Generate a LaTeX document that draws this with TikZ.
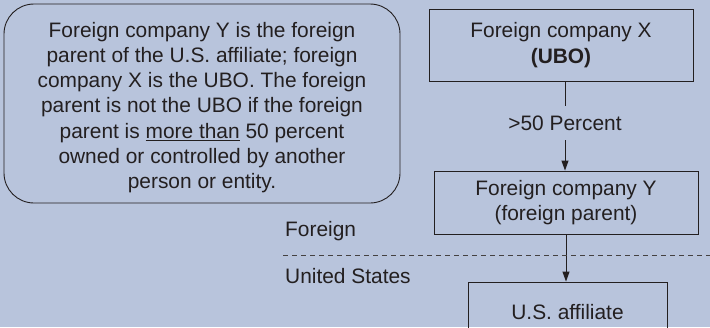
\documentclass[tikz,border=0pt]{standalone}
\usepackage{fontspec}
\setmainfont{Liberation Sans}
\usetikzlibrary{arrows.meta}
\definecolor{bgblue}{HTML}{B8C4DC}
\definecolor{ink}{HTML}{231F20}
\begin{document}
\begin{tikzpicture}[x=1pt,y=-1pt,
  every node/.style={font=\fontsize{20.9}{25.2}\selectfont, text=ink},
  company/.style={draw=ink, line width=0.9pt, align=center, inner sep=0pt},
  link/.style={draw=ink, line width=0.9pt},
  arrowlink/.style={link, -{Triangle[length=10pt,width=7pt]}},
  border/.style={draw=ink!85, line width=0.8pt, dash pattern=on 5pt off 4pt}]
  % canvas
  \fill[bgblue] (0,0) rectangle (710,327);
  \useasboundingbox (0,0) rectangle (710,327);

  % explanatory note
  \node[draw=ink, line width=0.9pt, rounded corners=30pt,
        minimum width=396pt, minimum height=199pt, inner sep=0pt,
        label={[align=center, yshift=-4pt]center:{%
          Foreign company Y is the foreign\\
          parent of the U.S. affiliate; foreign\\
          company X is the UBO. The foreign\\
          parent is not the UBO if the foreign\\
          parent is \underline{more than} 50 percent\\
          owned or controlled by another\\
          person or entity.}}]
    (note) at (202,103.5) {};

  % ownership chain
  \node[company, minimum width=264pt, minimum height=72pt] (X) at (561,45)
    {Foreign company X\\ \textbf{(UBO)}};
  \node[company, minimum width=264pt, minimum height=63pt] (Y) at (566,202.5)
    {Foreign company Y\\ (foreign parent)};
  \node[company, minimum width=199pt, minimum height=60pt] (A) at (567.5,312)
    {U.S. affiliate};
  \node[inner xsep=2pt, inner ysep=0pt, minimum height=34pt] (pct) at (565,123)
    {>50 Percent};

  \draw[link] (pct.north) -- (pct.north |- X.south);
  \draw[arrowlink] (pct.south) -- (pct.south |- Y.north);
  \draw[arrowlink] (Y.south -| 566,0) -- (A.north -| 566,0);

  % border between foreign and domestic
  \coordinate (bL) at (283,255);
  \coordinate (bR) at (710,255);
  \draw[border] (bL) -- (bR);
  \node[anchor=base west, inner sep=0pt] (foreign) at (285,236) {Foreign};
  \node[anchor=base west, inner sep=0pt] (us) at (285,283) {United States};
\end{tikzpicture}
\end{document}
